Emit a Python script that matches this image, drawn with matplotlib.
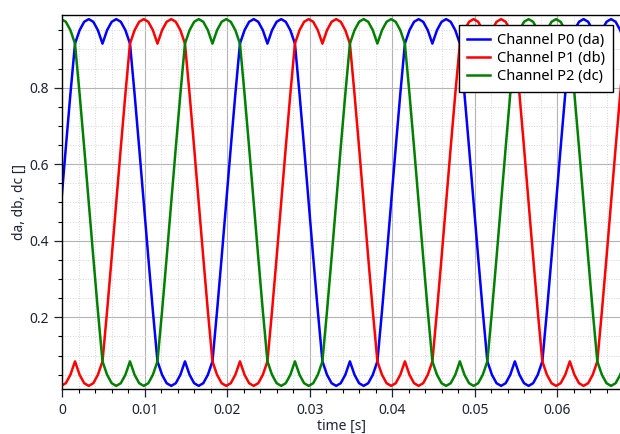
import matplotlib
matplotlib.use('Agg')
import matplotlib.pyplot as plt
from matplotlib.ticker import MultipleLocator
import numpy as np

plt.rcParams['font.family'] = ['Noto Sans', 'DejaVu Sans']

# sampling of the logged signals (start time, step) in s
T0 = -0.00015
DT = 0.02 / 36

# duty cycles, one value per sample
da = [0.500, 0.644, 0.784, 0.915, 0.950, 0.972, 0.979, 0.972, 0.950, 0.915, 0.950, 0.972,
      0.979, 0.972, 0.950, 0.915, 0.784, 0.644, 0.500, 0.356, 0.216, 0.085, 0.050, 0.028,
      0.021, 0.028, 0.050, 0.085, 0.050, 0.028, 0.021, 0.028, 0.050, 0.085, 0.216, 0.356,
      0.500, 0.644, 0.784, 0.915, 0.950, 0.972, 0.979, 0.972, 0.950, 0.915, 0.950, 0.972,
      0.979, 0.972, 0.950, 0.915, 0.784, 0.644, 0.500, 0.356, 0.216, 0.085, 0.050, 0.028,
      0.021, 0.028, 0.050, 0.085, 0.050, 0.028, 0.021, 0.028, 0.050, 0.085, 0.216, 0.356,
      0.500, 0.644, 0.784, 0.915, 0.950, 0.972, 0.979, 0.972, 0.950, 0.915, 0.950, 0.972,
      0.979, 0.972, 0.950, 0.915, 0.784, 0.644, 0.500, 0.356, 0.216, 0.085, 0.050, 0.028,
      0.021, 0.028, 0.050, 0.085, 0.050, 0.028, 0.021, 0.028, 0.050, 0.085, 0.216, 0.356,
      0.500, 0.644, 0.784, 0.915, 0.950, 0.972, 0.979, 0.972, 0.950, 0.915, 0.950, 0.972,
      0.979, 0.972, 0.950, 0.915]
db = [0.021, 0.028, 0.050, 0.085, 0.050, 0.028, 0.021, 0.028, 0.050, 0.085, 0.216, 0.356,
      0.500, 0.644, 0.784, 0.915, 0.950, 0.972, 0.979, 0.972, 0.950, 0.915, 0.950, 0.972,
      0.979, 0.972, 0.950, 0.915, 0.784, 0.644, 0.500, 0.356, 0.216, 0.085, 0.050, 0.028,
      0.021, 0.028, 0.050, 0.085, 0.050, 0.028, 0.021, 0.028, 0.050, 0.085, 0.216, 0.356,
      0.500, 0.644, 0.784, 0.915, 0.950, 0.972, 0.979, 0.972, 0.950, 0.915, 0.950, 0.972,
      0.979, 0.972, 0.950, 0.915, 0.784, 0.644, 0.500, 0.356, 0.216, 0.085, 0.050, 0.028,
      0.021, 0.028, 0.050, 0.085, 0.050, 0.028, 0.021, 0.028, 0.050, 0.085, 0.216, 0.356,
      0.500, 0.644, 0.784, 0.915, 0.950, 0.972, 0.979, 0.972, 0.950, 0.915, 0.950, 0.972,
      0.979, 0.972, 0.950, 0.915, 0.784, 0.644, 0.500, 0.356, 0.216, 0.085, 0.050, 0.028,
      0.021, 0.028, 0.050, 0.085, 0.050, 0.028, 0.021, 0.028, 0.050, 0.085, 0.216, 0.356,
      0.500, 0.644, 0.784, 0.915]
dc = [0.979, 0.972, 0.950, 0.915, 0.784, 0.644, 0.500, 0.356, 0.216, 0.085, 0.050, 0.028,
      0.021, 0.028, 0.050, 0.085, 0.050, 0.028, 0.021, 0.028, 0.050, 0.085, 0.216, 0.356,
      0.500, 0.644, 0.784, 0.915, 0.950, 0.972, 0.979, 0.972, 0.950, 0.915, 0.950, 0.972,
      0.979, 0.972, 0.950, 0.915, 0.784, 0.644, 0.500, 0.356, 0.216, 0.085, 0.050, 0.028,
      0.021, 0.028, 0.050, 0.085, 0.050, 0.028, 0.021, 0.028, 0.050, 0.085, 0.216, 0.356,
      0.500, 0.644, 0.784, 0.915, 0.950, 0.972, 0.979, 0.972, 0.950, 0.915, 0.950, 0.972,
      0.979, 0.972, 0.950, 0.915, 0.784, 0.644, 0.500, 0.356, 0.216, 0.085, 0.050, 0.028,
      0.021, 0.028, 0.050, 0.085, 0.050, 0.028, 0.021, 0.028, 0.050, 0.085, 0.216, 0.356,
      0.500, 0.644, 0.784, 0.915, 0.950, 0.972, 0.979, 0.972, 0.950, 0.915, 0.950, 0.972,
      0.979, 0.972, 0.950, 0.915, 0.784, 0.644, 0.500, 0.356, 0.216, 0.085, 0.050, 0.028,
      0.021, 0.028, 0.050, 0.085]

labels = ['Channel P0 (da)', 'Channel P1 (db)', 'Channel P2 (dc)']
colors = ['#0000ff', '#ff0000', '#008000']

t = T0 + DT * np.arange(len(da))

fig = plt.figure(figsize=(6.2, 4.34), dpi=100)
ax = fig.add_axes([62.5 / 620, 45 / 434, 557.5 / 620, 373.7 / 434])

for y, lab, c in zip([da, db, dc], labels, colors):
    ax.plot(t, y, color=c, lw=1.8, label=lab)

ax.set_xlim(0, 0.0676)
ax.set_ylim(0.0128, 0.989)
ax.xaxis.set_major_locator(MultipleLocator(0.01))
ax.xaxis.set_minor_locator(MultipleLocator(0.002))
ax.yaxis.set_major_locator(MultipleLocator(0.2))
ax.yaxis.set_minor_locator(MultipleLocator(0.05))
ax.xaxis.set_major_formatter(plt.FuncFormatter(lambda v, p: '0' if abs(v) < 1e-9 else f'{v:g}'))

ax.grid(which='major', color='#b4b4b4', lw=0.8)
ax.grid(which='minor', color='#d4d4d4', lw=0.7, ls=':')
ax.set_axisbelow(True)
ax.tick_params(which='major', length=5.8, width=0.9, labelsize=10, colors='#1e2433', pad=4)
ax.tick_params(which='minor', length=3.2, width=0.8)
ax.spines['right'].set_visible(False)
for s in ['left', 'bottom', 'top']:
    ax.spines[s].set_linewidth(1.0)

ax.set_xlabel('time [s]', fontsize=10, labelpad=1, color='#1e2433')
ax.set_ylabel('da, db, dc []', fontsize=10, labelpad=2, color='#1e2433')

leg = ax.legend(loc='upper right', bbox_to_anchor=(0.988, 0.974), borderaxespad=0,
                fontsize=10.5, frameon=True, fancybox=False, handlelength=1.6,
                handletextpad=0.5, labelspacing=0.2, borderpad=0.55)
leg.get_frame().set_edgecolor('black')
leg.get_frame().set_linewidth(1.0)
leg.get_frame().set_alpha(1)

fig.savefig('out.png', dpi=100)
